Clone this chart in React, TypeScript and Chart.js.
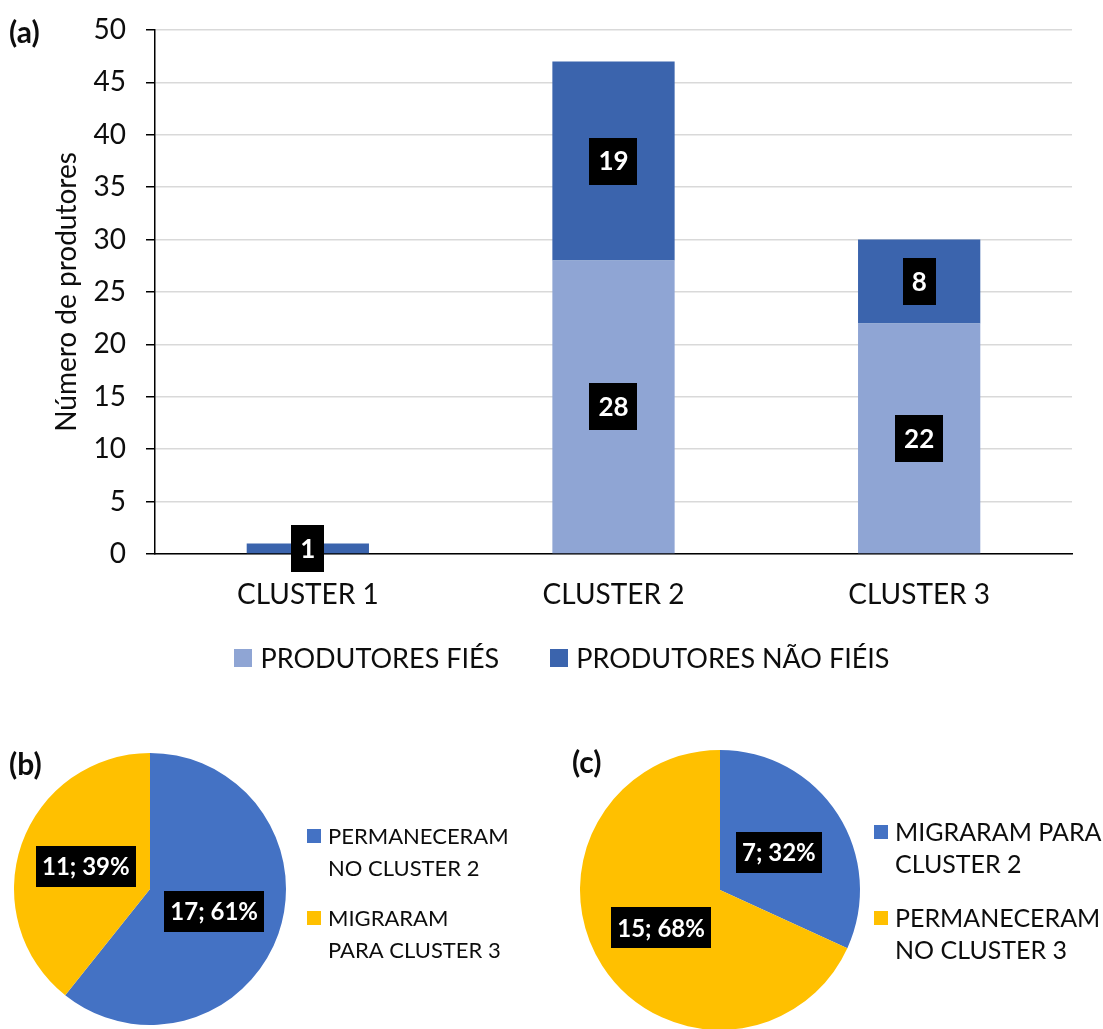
import React, { useEffect, useRef } from 'react';
import { Chart, registerables } from 'chart.js';

Chart.register(...registerables);

const FONT = 'Lato, "Open Sans", sans-serif';
const TEXT = '#0d0d0d';

// ---- (a) stacked bar data ----
const clusterLabels = ['CLUSTER 1', 'CLUSTER 2', 'CLUSTER 3'];
const seriesNames = ['PRODUTORES FIÉS', 'PRODUTORES NÃO FIÉIS'];
const fieisValues = [0, 28, 22];
const naoFieisValues = [1, 19, 8];
const yAxisTitle = 'Número de produtores';
const yMin = 0;
const yMax = 50;
const yStep = 5;

// ---- (b) pie data ----
const pieBLabels = [['PERMANECERAM', 'NO CLUSTER 2'], ['MIGRARAM', 'PARA CLUSTER 3']];
const pieBValues = [17, 11];

// ---- (c) pie data ----
const pieCLabels = [['MIGRARAM PARA', 'CLUSTER 2'], ['PERMANECERAM', 'NO CLUSTER 3']];
const pieCValues = [7, 15];

const COLORS = {
  fieis: '#8FA5D4',
  naoFieis: '#3B64AD',
  blue: '#4472C4',
  yellow: '#FFC000',
};

function drawBoxLabel(ctx: CanvasRenderingContext2D, text: string, x: number, y: number, font: string, padX: number, h: number) {
  ctx.save();
  ctx.font = font;
  const w = ctx.measureText(text).width + 2 * padX;
  ctx.fillStyle = '#000';
  ctx.fillRect(Math.round(x - w / 2), Math.round(y - h / 2), Math.round(w), h);
  ctx.fillStyle = '#fff';
  ctx.textAlign = 'center';
  ctx.textBaseline = 'middle';
  ctx.fillText(text, x, y + 1);
  ctx.restore();
}

const barLabelsPlugin = {
  id: 'barLabels',
  afterDatasetsDraw(chart: any) {
    const ctx = chart.ctx;
    chart.data.datasets.forEach((ds: any, di: number) => {
      const meta = chart.getDatasetMeta(di);
      meta.data.forEach((el: any, i: number) => {
        const v = ds.data[i];
        if (!v) return;
        const p = el.getCenterPoint();
        drawBoxLabel(ctx, String(v), p.x, p.y, `bold 26px ${FONT}`, 9, 47);
      });
    });
  },
};

const barLegendPlugin = {
  id: 'barLegend',
  afterDraw(chart: any, _args: any, opts: any) {
    const ctx = chart.ctx;
    const box = 18;
    const boxGap = 8;
    const itemGap = 51;
    ctx.save();
    ctx.font = `27px ${FONT}`;
    const items = chart.data.datasets.map((ds: any) => ({
      text: ds.label,
      color: ds.backgroundColor,
      w: ctx.measureText(ds.label).width,
    }));
    const total = items.reduce((s: number, it: any) => s + box + boxGap + it.w, 0) + itemGap * (items.length - 1);
    let x = opts.centerX - total / 2;
    const y = opts.y;
    items.forEach((it: any) => {
      ctx.fillStyle = it.color;
      ctx.fillRect(Math.round(x), Math.round(y - box / 2), box, box);
      ctx.fillStyle = TEXT;
      ctx.textAlign = 'left';
      ctx.textBaseline = 'middle';
      ctx.fillText(it.text, x + box + boxGap, y + 1);
      x += box + boxGap + it.w + itemGap;
    });
    ctx.restore();
  },
};

const pieLabelsPlugin = {
  id: 'pieLabels',
  afterDatasetsDraw(chart: any) {
    const ctx = chart.ctx;
    const ds = chart.data.datasets[0];
    const total = ds.data.reduce((s: number, v: number) => s + v, 0);
    const meta = chart.getDatasetMeta(0);
    meta.data.forEach((el: any, i: number) => {
      const v = ds.data[i];
      const pct = Math.round((v / total) * 100);
      const p = el.tooltipPosition();
      drawBoxLabel(ctx, `${v}; ${pct}%`, p.x, p.y, `bold 24px ${FONT}`, 6, 41);
    });
  },
};

const pieLegendPlugin = {
  id: 'pieLegend',
  afterDraw(chart: any, _args: any, opts: any) {
    const ctx = chart.ctx;
    const colors = chart.data.datasets[0].backgroundColor;
    ctx.save();
    ctx.font = `${opts.fontSize}px ${FONT}`;
    ctx.textAlign = 'left';
    ctx.textBaseline = 'middle';
    chart.data.labels.forEach((lab: string[], i: number) => {
      const y0 = opts.y0 + i * opts.itemStep;
      ctx.fillStyle = colors[i];
      ctx.fillRect(opts.x, Math.round(y0 - 7), 14, 14);
      ctx.fillStyle = TEXT;
      lab.forEach((line, li) => {
        ctx.fillText(line, opts.x + 21, y0 + li * opts.lineH + 1);
      });
    });
    ctx.restore();
  },
};

export default function App() {
  const barRef = useRef<HTMLCanvasElement>(null);
  const pieBRef = useRef<HTMLCanvasElement>(null);
  const pieCRef = useRef<HTMLCanvasElement>(null);

  useEffect(() => {
    const charts: Chart[] = [];

    charts.push(
      new Chart(barRef.current!, {
        type: 'bar',
        data: {
          labels: clusterLabels,
          datasets: [
            { label: seriesNames[0], data: fieisValues, backgroundColor: COLORS.fieis, barPercentage: 1, categoryPercentage: 0.4 },
            { label: seriesNames[1], data: naoFieisValues, backgroundColor: COLORS.naoFieis, barPercentage: 1, categoryPercentage: 0.4 },
          ],
        },
        options: {
          animation: false,
          responsive: false,
          events: [],
          layout: { padding: { left: 0, right: 31, top: 30, bottom: 46 } },
          plugins: {
            legend: { display: false },
            tooltip: { enabled: false },
            barLegend: { centerX: 562, y: 658 },
          } as any,
          scales: {
            x: {
              stacked: true,
              grid: { display: false, drawTicks: false },
              border: { color: '#000', width: 1.5 },
              ticks: { padding: 24, color: TEXT, font: { family: FONT, size: 28 } },
              afterFit(scale: any) {
                scale.height = 100;
              },
            },
            y: {
              stacked: true,
              min: yMin,
              max: yMax,
              ticks: { stepSize: yStep, padding: 20, color: TEXT, font: { family: FONT, size: 28 } },
              grid: { color: '#d9d9d9', lineWidth: 1.5, tickLength: 9, tickColor: '#000', drawTicks: true },
              border: { color: '#000', width: 1.5 },
              title: {
                display: true,
                text: yAxisTitle,
                color: TEXT,
                font: { family: FONT, size: 28 },
                padding: { top: 50, bottom: 0 },
              },
              afterFit(scale: any) {
                scale.width = 155;
                scale.paddingTop = 0;
                scale.paddingBottom = 0;
              },
            },
          },
        },
        plugins: [barLabelsPlugin, barLegendPlugin],
      })
    );

    const makePie = (canvas: HTMLCanvasElement, labels: string[][], values: number[], padding: any, legend: any) =>
      new Chart(canvas, {
        type: 'pie',
        data: {
          labels: labels as any,
          datasets: [
            {
              data: values,
              backgroundColor: [COLORS.blue, COLORS.yellow],
              borderWidth: 0,
              hoverOffset: 0,
            },
          ],
        },
        options: {
          animation: false,
          responsive: false,
          events: [],
          layout: { padding },
          plugins: {
            legend: { display: false },
            tooltip: { enabled: false },
            pieLegend: legend,
          } as any,
        },
        plugins: [pieLabelsPlugin, pieLegendPlugin],
      });

    charts.push(
      makePie(pieBRef.current!, pieBLabels, pieBValues, { left: 14, top: 13, right: 264, bottom: 15 }, { x: 307, y0: 96, itemStep: 82, lineH: 32, fontSize: 22 })
    );
    charts.push(
      makePie(pieCRef.current!, pieCLabels, pieCValues, { left: 20, top: 10, right: 243, bottom: 10 }, { x: 314, y0: 92, itemStep: 86, lineH: 32, fontSize: 25 })
    );

    return () => charts.forEach((c) => c.destroy());
  }, []);

  const panelLabel: React.CSSProperties = {
    position: 'absolute',
    fontFamily: FONT,
    fontWeight: 'bold',
    fontSize: 30,
    lineHeight: '30px',
    color: TEXT,
  };

  return (
    <div style={{ position: 'absolute', left: 0, top: 0, width: 1103, height: 1029, background: '#fff', overflow: 'hidden' }}>
      <canvas ref={barRef} width={1103} height={700} style={{ position: 'absolute', left: 0, top: 0, width: 1103, height: 700 }} />
      <canvas ref={pieBRef} width={550} height={300} style={{ position: 'absolute', left: 0, top: 740, width: 550, height: 300 }} />
      <canvas ref={pieCRef} width={543} height={300} style={{ position: 'absolute', left: 560, top: 740, width: 543, height: 300 }} />
      <div style={{ ...panelLabel, left: 9, top: 16 }}>(a)</div>
      <div style={{ ...panelLabel, left: 9, top: 748 }}>(b)</div>
      <div style={{ ...panelLabel, left: 572, top: 746 }}>(c)</div>
    </div>
  );
}
